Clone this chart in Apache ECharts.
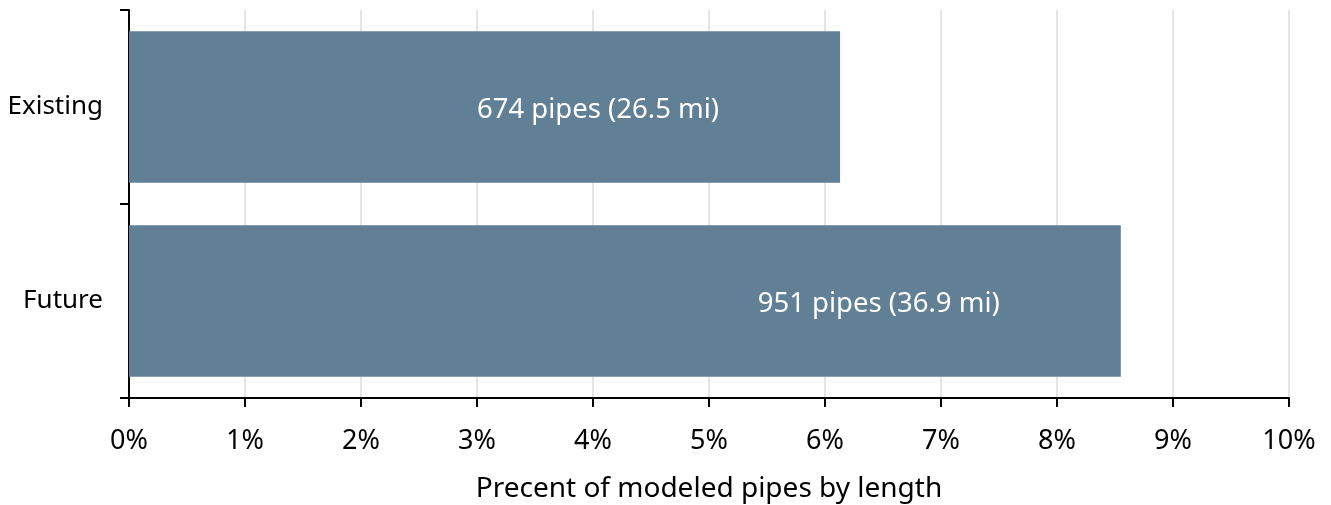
<!DOCTYPE html>
<html>
<head>
<meta charset="utf-8">
<script src="https://cdn.jsdelivr.net/npm/echarts@6/dist/echarts.min.js"></script>
<style>
html,body{margin:0;padding:0;background:#fff;}
#chart{width:1331px;height:505px;}
</style>
</head>
<body>
<div id="chart"></div>
<script>
const categories = ['Existing', 'Future'];
const percentValues = [6.13, 8.55];
const barLabels = ['674 pipes (26.5 mi)', '951 pipes (36.9 mi)'];
const xAxisTitle = 'Precent of modeled pipes by length';

const FONT = '"Noto Sans", "DejaVu Sans", sans-serif';
const chart = echarts.init(document.getElementById('chart'), null, {renderer: 'canvas'});
chart.setOption({
  animation: false,
  backgroundColor: '#ffffff',
  grid: {left: 129, right: 42, top: 10, bottom: 107, containLabel: false, outerBoundsMode: 'none'},
  xAxis: {
    type: 'value',
    min: 0, max: 10, interval: 1,
    name: xAxisTitle,
    nameLocation: 'middle',
    nameGap: 77,
    nameTextStyle: {fontFamily: FONT, fontSize: 28, color: '#000'},
    axisLine: {show: true, lineStyle: {color: '#000', width: 2}},
    axisTick: {show: true, length: 9, lineStyle: {color: '#000', width: 2}},
    axisLabel: {fontFamily: FONT, fontSize: 27, color: '#000', margin: 30,
      formatter: v => v + '%'},
    splitLine: {show: true, lineStyle: {color: '#dcdcdc', width: 1.5}}
  },
  yAxis: {
    type: 'category',
    data: categories,
    inverse: true,
    axisLine: {show: true, lineStyle: {color: '#000', width: 2}},
    axisTick: {show: true, length: 9, lineStyle: {color: '#000', width: 2}},
    axisLabel: {fontFamily: FONT, fontSize: 26, color: '#000', margin: 26},
    splitLine: {show: false}
  },
  series: [{
    type: 'bar',
    data: percentValues,
    barCategoryGap: '22%',
    itemStyle: {color: '#617f95'},
    label: {
      show: true,
      position: 'insideRight',
      distance: 121,
      fontFamily: FONT,
      fontSize: 27.5,
      color: '#ffffff',
      offset: [0, 3],
      formatter: p => barLabels[p.dataIndex]
    }
  }]
});
</script>
</body>
</html>
